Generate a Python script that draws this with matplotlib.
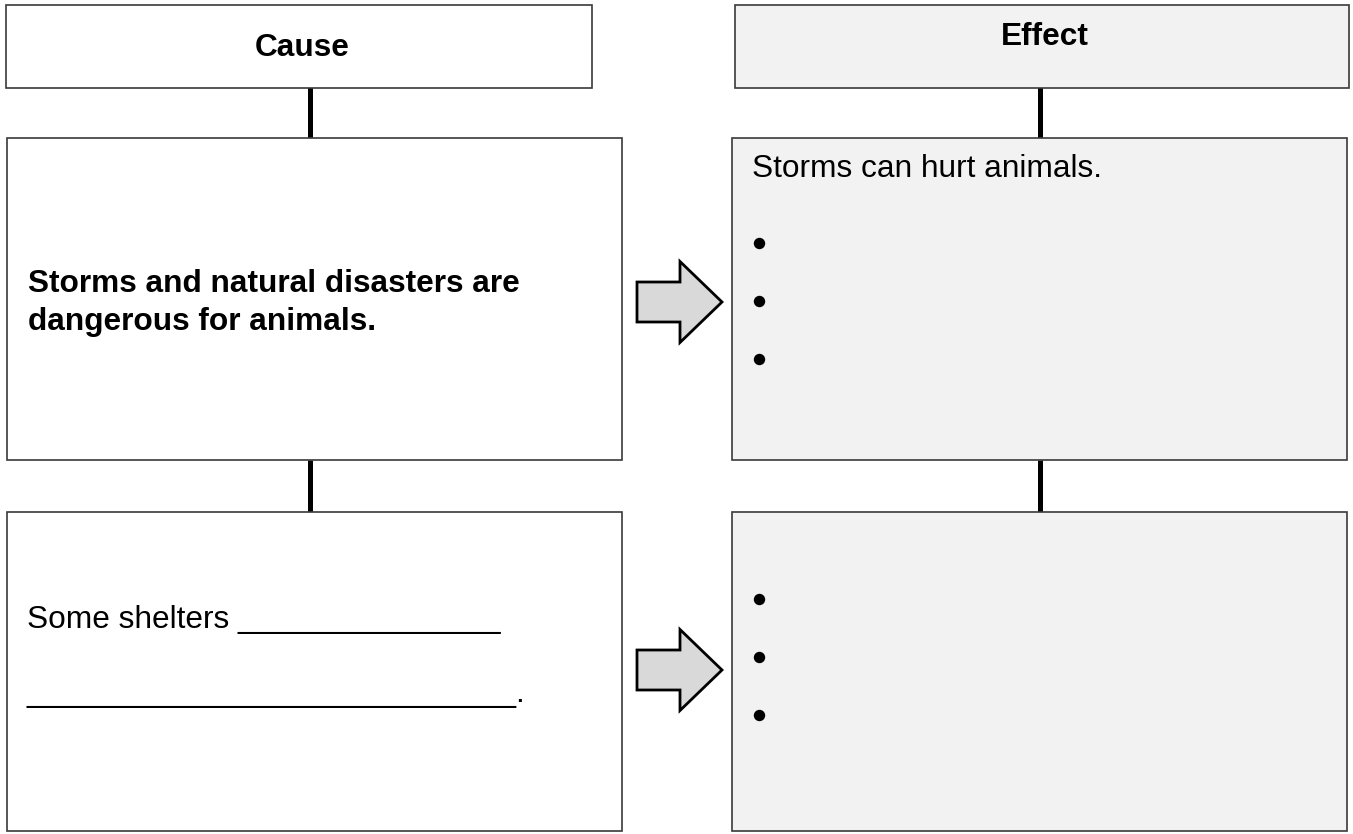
import matplotlib.pyplot as plt
from matplotlib.patches import Rectangle, FancyArrow

plt.rcParams['font.family'] = ['Liberation Sans', 'DejaVu Sans']

# text content
headers = ['Cause', 'Effect']
cause_bold = ['Storms and natural disasters are', 'dangerous for animals.']
cause_blank = ['Some shelters ' + '_' * 15, '_' * 28 + '.']
effect_first = 'Storms can hurt animals.'
n_bullets = [3, 3]

# layout (pixel coords, y down)
W, H = 1353, 834
col_x = [(6, 592), (735, 1349)]
head_y = (5, 88)
head_base = [56, 45]
row_x = [(7, 622), (732, 1347)]
row_y = [(138, 460), (512, 831)]
conn_x = [310, 1040]
fills = ['white', '#f2f2f2']
edge = '#3a3a3a'
fs = 22.8

fig = plt.figure(figsize=(W / 100, H / 100), dpi=100)
ax = fig.add_axes([0, 0, 1, 1])
ax.set_xlim(0, W)
ax.set_ylim(H, 0)
ax.axis('off')

# header boxes
for i, h in enumerate(headers):
    x0, x1 = col_x[i]
    y0, y1 = head_y
    ax.add_patch(Rectangle((x0, y0), x1 - x0, y1 - y0, facecolor=fills[i],
                           edgecolor=edge, lw=1.2))
    ax.text((x0 + x1) / 2 + 3, head_base[i], h, ha='center', va='baseline',
            fontsize=fs, fontweight='bold')

# connectors
for i in range(2):
    ax.plot([conn_x[i], conn_x[i]], [head_y[1], row_y[0][0]], color='black',
            lw=3.6, solid_capstyle='butt', zorder=1)
    ax.plot([conn_x[i], conn_x[i]], [row_y[0][1], row_y[1][0]], color='black',
            lw=3.6, solid_capstyle='butt', zorder=1)

# boxes in the two rows
for r in range(2):
    y0, y1 = row_y[r]
    for c in range(2):
        x0, x1 = row_x[c]
        ax.add_patch(Rectangle((x0, y0), x1 - x0, y1 - y0, facecolor=fills[c],
                               edgecolor=edge, lw=1.2, zorder=2))

# cause texts
for line, yb in zip(cause_bold, [292, 330]):
    ax.text(28, yb, line, ha='left', va='baseline', fontsize=fs,
            fontweight='bold', zorder=3)
for line, yb in zip(cause_blank, [628, 702]):
    ax.text(27, yb, line, ha='left', va='baseline', fontsize=fs, zorder=3)

# effect texts and bullets
ax.text(752, 177, effect_first, ha='left', va='baseline', fontsize=fs, zorder=3)
bullet_start = [243, 599]
for r in range(2):
    ys = [bullet_start[r] + b * 58 for b in range(n_bullets[r])]
    ax.plot([759] * len(ys), ys, 'o', color='black', markersize=7.2, zorder=3)

# block arrows
arrow_y = [302, 670]
for ay in arrow_y:
    ax.add_patch(FancyArrow(637, ay, 85, 0, width=40, head_width=81, head_length=42,
                            length_includes_head=True, facecolor='#d9d9d9',
                            edgecolor='black', lw=2, zorder=3))

fig.savefig('out.png', dpi=100, facecolor='white')
